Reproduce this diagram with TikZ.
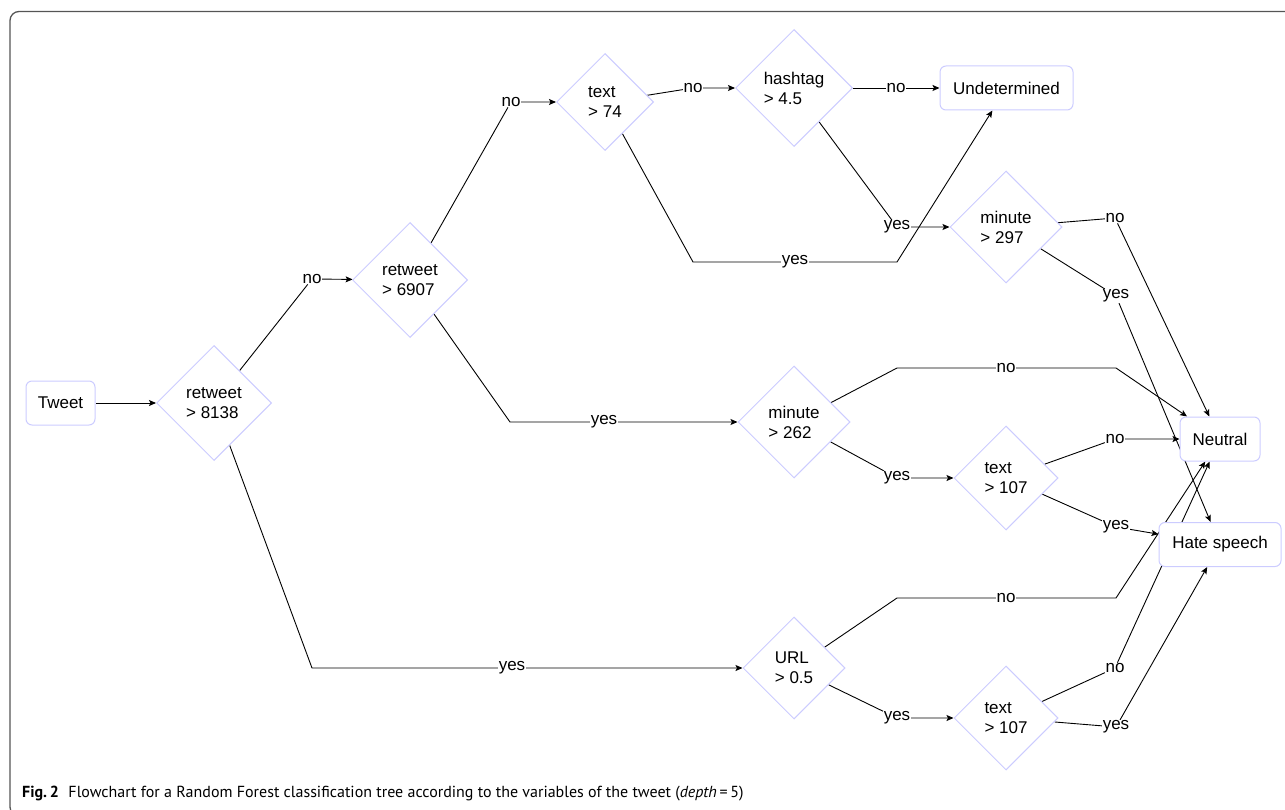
\documentclass[tikz,border=0pt]{standalone}
\usepackage{fontspec}
\setmainfont{Liberation Sans}
\newfontfamily\capfont{PT Sans}
\usetikzlibrary{shapes.geometric,arrows.meta,backgrounds}
\definecolor{nodeborder}{HTML}{CCCCFF}
\definecolor{framecol}{HTML}{555555}
\tikzset{
  dnode/.style={shape=diamond, draw=nodeborder, line width=1pt, fill=white, inner sep=0pt, aspect=1, align=left, font=\fontsize{17}{20}\selectfont},
  tbox/.style={rectangle, rounded corners=6pt, draw=nodeborder, line width=1pt, fill=white, inner sep=0pt, font=\fontsize{17}{20}\selectfont},
  elabel/.style={fill=white, inner sep=0.5pt, font=\fontsize{17}{20}\selectfont},
  conn/.style={draw=black, line width=0.9pt, line join=round},
  arr/.style={conn, -{Stealth[length=7pt,width=6pt,inset=1.5pt]}},
}
\begin{document}
\begin{tikzpicture}[x=1pt,y=-1pt]
\useasboundingbox (0,0) rectangle (1285,810);
\clip (0,0) rectangle (1285,810);
\draw[framecol, line width=1.3pt, rounded corners=9pt] (10,11.5) rectangle (1300,816);

% decision and leaf nodes
\node[tbox, minimum width=69pt, minimum height=44pt] (tweet) at (60.5,403) {Tweet};
\node[dnode, minimum width=115pt, minimum height=115pt] (r1) at (214,403) {retweet\\> 8138};
\node[dnode, minimum width=115pt, minimum height=115pt] (r2) at (410,280) {retweet\\> 6907};
\node[dnode, minimum width=97pt, minimum height=97pt] (t74) at (605,102) {text\\> 74};
\node[dnode, minimum width=117pt, minimum height=117pt] (hash) at (794,88) {hashtag\\> 4.5};
\node[dnode, minimum width=112pt, minimum height=112pt] (m297) at (1006,227) {minute\\> 297};
\node[dnode, minimum width=112pt, minimum height=112pt] (m262) at (794,422) {minute\\> 262};
\node[dnode, minimum width=104pt, minimum height=104pt] (t107a) at (1006,478) {text\\> 107};
\node[dnode, minimum width=102pt, minimum height=102pt] (url) at (794,668) {URL\\> 0.5};
\node[dnode, minimum width=104pt, minimum height=104pt] (t107b) at (1006,718) {text\\> 107};
\node[tbox, minimum width=133pt, minimum height=44pt] (undet) at (1006.5,88) {Undetermined};
\node[tbox, minimum width=80pt, minimum height=44pt] (neutral) at (1220,439) {Neutral};
\node[tbox, minimum width=122pt, minimum height=44pt] (hate) at (1220,544.5) {Hate speech};

% edge labels
\node[elabel] (l1) at (312,279) {no};
\node[elabel] (l2) at (512,668) {yes};
\node[elabel] (l3) at (511,102) {no};
\node[elabel] (l4) at (604,422) {yes};
\node[elabel] (l5) at (693,88) {no};
\node[elabel] (l6) at (795,262) {yes};
\node[elabel] (l7) at (896,88) {no};
\node[elabel] (l8) at (897,227) {yes};
\node[elabel] (l9) at (1115,218) {no};
\node[elabel] (l10) at (1116,296) {yes};
\node[elabel] (l11) at (1006,368) {no};
\node[elabel] (l12) at (897,478) {yes};
\node[elabel] (l13) at (1115,439) {no};
\node[elabel] (l14) at (1116,527) {yes};
\node[elabel] (l15) at (1006,598) {no};
\node[elabel] (l16) at (897,718) {yes};
\node[elabel] (l17) at (1115,668) {no};
\node[elabel] (l18) at (1116,727) {yes};

% bend points
\coordinate (b1) at (312,668);
\coordinate (b2) at (510,422);
\coordinate (b3) at (693,262);
\coordinate (b4) at (897,262);
\coordinate (b5) at (897,368);
\coordinate (b6) at (1116,368);
\coordinate (b7) at (897,598);
\coordinate (b8) at (1116,598);

\begin{pgfonlayer}{background}
\draw[arr] (tweet) -- (r1);
\draw[arr] (r1) -- (l1) -- (r2);
\draw[arr] (r1) -- (b1) -- (l2) -- (url);
\draw[arr] (r2) -- (l3) -- (t74);
\draw[arr] (r2) -- (b2) -- (l4) -- (m262);
\draw[arr] (t74) -- (l5) -- (hash);
\draw[arr] (t74) -- (b3) -- (l6) -- (b4) -- (undet);
\draw[arr] (hash) -- (l7) -- (undet);
\draw[arr] (hash) -- (l8) -- (m297);
\draw[arr] (m297) -- (l9) -- (neutral);
\draw[arr] (m297) -- (l10) -- (hate);
\draw[arr] (m262) -- (b5) -- (l11) -- (b6) -- (neutral);
\draw[arr] (m262) -- (l12) -- (t107a);
\draw[arr] (t107a) -- (l13) -- (neutral);
\draw[arr] (t107a) -- (l14) -- (hate);
\draw[arr] (url) -- (b7) -- (l15) -- (b8) -- (neutral);
\draw[arr] (url) -- (l16) -- (t107b);
\draw[arr] (t107b) -- (l17) -- (neutral);
\draw[arr] (t107b) -- (l18) -- (hate);
\end{pgfonlayer}

\node[anchor=base west, inner sep=0pt, font=\capfont\fontsize{16}{18}\selectfont] (cap) at (22,797)
  {\textbf{Fig.\,2}\hspace{0.6em}Flowchart for a Random Forest classification tree according to the variables of the tweet (\textit{depth}\,=\,5)};
\end{tikzpicture}
\end{document}
